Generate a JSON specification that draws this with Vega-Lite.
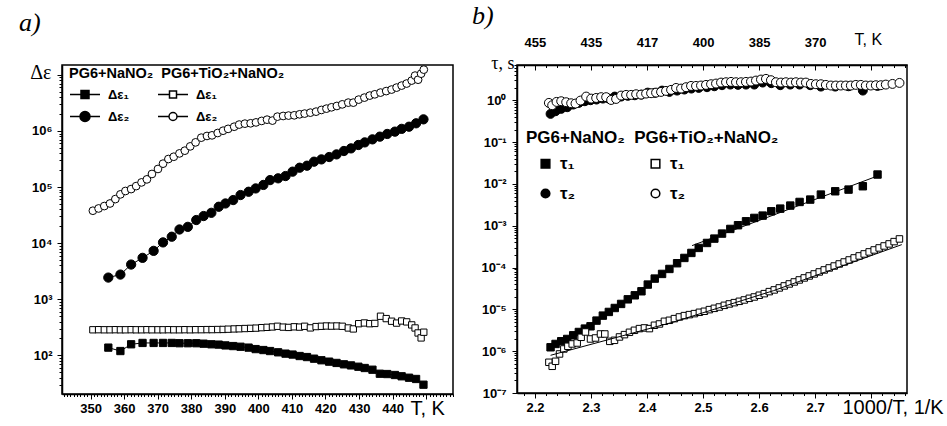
{
"$schema": "https://vega.github.io/schema/vega-lite/v6.json",
"background": "white",
"padding": {"left": 18, "top": 2, "right": 0, "bottom": 0},
"spacing": 16,
"resolve": {"scale": {"shape": "independent", "fill": "independent"}, "legend": {"shape": "independent", "fill": "independent"}},
"config": {
  "font": "Liberation Sans",
  "view": {"stroke": "black", "strokeWidth": 1.5},
  "axis": {"grid": false, "domainColor": "black", "domainWidth": 1.5, "tickColor": "black", "tickWidth": 1, "labelColor": "black", "labelFont": "Liberation Sans", "labelFontWeight": "bold", "labelFontSize": 13, "titleColor": "black", "titleFontWeight": "normal", "labelOverlap": false, "labelBound": false, "labelFlush": false},
  "legend": {"titleColor": "black", "labelColor": "black", "titleFont": "Liberation Sans", "labelFont": "Liberation Sans", "titleFontWeight": "bold", "labelFontWeight": "bold", "titleLimit": 0, "labelLimit": 0}
},
"datasets": {
  "left": [
{"s":"A","T":355.3,"v":137},{"s":"A","T":358.9,"v":119},{"s":"A","T":362.1,"v":157},{"s":"A","T":365.5,"v":166},{"s":"A","T":368.8,"v":166},{"s":"A","T":371.6,"v":166},{"s":"A","T":374.2,"v":166},{"s":"A","T":376.5,"v":164},{"s":"A","T":379.0,"v":164},{"s":"A","T":381.5,"v":164},{"s":"A","T":383.7,"v":161},{"s":"A","T":386.0,"v":157},{"s":"A","T":388.2,"v":155},{"s":"A","T":390.2,"v":150},{"s":"A","T":392.5,"v":146},{"s":"A","T":394.7,"v":142},{"s":"A","T":397.1,"v":137},{"s":"A","T":399.2,"v":129},{"s":"A","T":401.5,"v":124},{"s":"A","T":403.5,"v":119},{"s":"A","T":405.9,"v":113},{"s":"A","T":408.1,"v":107},{"s":"A","T":410.2,"v":103},{"s":"A","T":412.3,"v":97},{"s":"A","T":414.5,"v":93},{"s":"A","T":416.6,"v":87},{"s":"A","T":418.8,"v":81.5},{"s":"A","T":421.1,"v":77},{"s":"A","T":423.3,"v":73},{"s":"A","T":425.5,"v":69},{"s":"A","T":427.6,"v":66},{"s":"A","T":429.8,"v":62.5},{"s":"A","T":431.7,"v":59.3},{"s":"A","T":434.0,"v":55.3},{"s":"A","T":436.2,"v":46.9},{"s":"A","T":438.4,"v":46.3},{"s":"A","T":440.7,"v":44.5},{"s":"A","T":442.7,"v":42.2},{"s":"A","T":444.9,"v":39.8},{"s":"A","T":447.0,"v":37.8},{"s":"A","T":449.2,"v":29.9},
{"s":"C","T":355.3,"v":2430},{"s":"C","T":358.9,"v":2750},{"s":"C","T":362.1,"v":4150},{"s":"C","T":365.5,"v":5460},{"s":"C","T":368.8,"v":7280},{"s":"C","T":371.6,"v":10300},{"s":"C","T":374.2,"v":13000},{"s":"C","T":376.5,"v":17500},{"s":"C","T":379.0,"v":19500},{"s":"C","T":381.5,"v":25800},{"s":"C","T":383.7,"v":30400},{"s":"C","T":386.0,"v":34700},{"s":"C","T":388.2,"v":44500},{"s":"C","T":390.2,"v":50900},{"s":"C","T":392.5,"v":58600},{"s":"C","T":394.7,"v":72000},{"s":"C","T":397.1,"v":82400},{"s":"C","T":399.2,"v":94400},{"s":"C","T":401.5,"v":109000},{"s":"C","T":403.5,"v":133000},{"s":"C","T":405.9,"v":143000},{"s":"C","T":408.1,"v":157000},{"s":"C","T":410.2,"v":188000},{"s":"C","T":412.3,"v":221000},{"s":"C","T":414.5,"v":240000},{"s":"C","T":416.6,"v":283000},{"s":"C","T":418.8,"v":311000},{"s":"C","T":421.1,"v":343000},{"s":"C","T":423.3,"v":382000},{"s":"C","T":425.5,"v":439000},{"s":"C","T":427.6,"v":489000},{"s":"C","T":429.8,"v":562000},{"s":"C","T":431.7,"v":625000},{"s":"C","T":434.0,"v":708000},{"s":"C","T":436.2,"v":791000},{"s":"C","T":438.4,"v":884000},{"s":"C","T":440.7,"v":972000},{"s":"C","T":442.7,"v":1090000},{"s":"C","T":444.9,"v":1190000},{"s":"C","T":447.0,"v":1370000},{"s":"C","T":449.2,"v":1610000},
{"s":"B","T":350.7,"v":285},{"s":"B","T":352.4,"v":286},{"s":"B","T":354.1,"v":285},{"s":"B","T":355.8,"v":285},{"s":"B","T":357.4,"v":286},{"s":"B","T":358.9,"v":285},{"s":"B","T":360.4,"v":285},{"s":"B","T":362.1,"v":286},{"s":"B","T":363.6,"v":285},{"s":"B","T":365.2,"v":285},{"s":"B","T":366.8,"v":286},{"s":"B","T":368.3,"v":285},{"s":"B","T":370.1,"v":285},{"s":"B","T":371.6,"v":285},{"s":"B","T":373.2,"v":286},{"s":"B","T":374.8,"v":285},{"s":"B","T":376.5,"v":285},{"s":"B","T":378.1,"v":286},{"s":"B","T":379.7,"v":285},{"s":"B","T":381.3,"v":286},{"s":"B","T":383.0,"v":286},{"s":"B","T":384.7,"v":287},{"s":"B","T":386.2,"v":287},{"s":"B","T":387.9,"v":288},{"s":"B","T":389.5,"v":289},{"s":"B","T":391.0,"v":292},{"s":"B","T":392.8,"v":295},{"s":"B","T":394.3,"v":297},{"s":"B","T":396.0,"v":300},{"s":"B","T":397.7,"v":302},{"s":"B","T":399.3,"v":305},{"s":"B","T":401.0,"v":311},{"s":"B","T":402.6,"v":315},{"s":"B","T":404.2,"v":320},{"s":"B","T":405.7,"v":329},{"s":"B","T":407.4,"v":318},{"s":"B","T":409.0,"v":314},{"s":"B","T":410.7,"v":322},{"s":"B","T":412.3,"v":318},{"s":"B","T":413.8,"v":329},{"s":"B","T":415.5,"v":308},{"s":"B","T":417.2,"v":325},{"s":"B","T":418.8,"v":329},{"s":"B","T":420.3,"v":333},{"s":"B","T":421.8,"v":331},{"s":"B","T":423.4,"v":333},{"s":"B","T":425.0,"v":329},{"s":"B","T":426.8,"v":307},{"s":"B","T":428.3,"v":295},{"s":"B","T":429.9,"v":366},{"s":"B","T":431.6,"v":377},{"s":"B","T":433.2,"v":366},{"s":"B","T":434.7,"v":370},{"s":"B","T":436.4,"v":497},{"s":"B","T":438.1,"v":451},{"s":"B","T":439.7,"v":405},{"s":"B","T":441.2,"v":375},{"s":"B","T":442.7,"v":409},{"s":"B","T":444.2,"v":394},{"s":"B","T":445.7,"v":348},{"s":"B","T":446.7,"v":307},{"s":"B","T":447.6,"v":250},{"s":"B","T":448.5,"v":204},{"s":"B","T":449.3,"v":258},
{"s":"D","T":350.7,"v":37800},{"s":"D","T":352.4,"v":41500},{"s":"D","T":354.1,"v":45800},{"s":"D","T":355.8,"v":50900},{"s":"D","T":357.4,"v":61000},{"s":"D","T":358.9,"v":74000},{"s":"D","T":360.4,"v":85000},{"s":"D","T":362.1,"v":92000},{"s":"D","T":363.6,"v":104000},{"s":"D","T":365.2,"v":121000},{"s":"D","T":366.8,"v":137000},{"s":"D","T":368.3,"v":171000},{"s":"D","T":370.1,"v":210000},{"s":"D","T":371.6,"v":261000},{"s":"D","T":373.2,"v":316000},{"s":"D","T":374.8,"v":347000},{"s":"D","T":376.5,"v":398000},{"s":"D","T":378.1,"v":445000},{"s":"D","T":379.7,"v":531000},{"s":"D","T":381.3,"v":626000},{"s":"D","T":383.0,"v":759000},{"s":"D","T":384.7,"v":814000},{"s":"D","T":386.2,"v":835000},{"s":"D","T":387.9,"v":920000},{"s":"D","T":389.5,"v":1010000},{"s":"D","T":391.0,"v":1090000},{"s":"D","T":392.8,"v":1190000},{"s":"D","T":394.3,"v":1300000},{"s":"D","T":396.0,"v":1350000},{"s":"D","T":397.7,"v":1370000},{"s":"D","T":399.3,"v":1420000},{"s":"D","T":401.0,"v":1510000},{"s":"D","T":402.6,"v":1590000},{"s":"D","T":404.2,"v":1530000},{"s":"D","T":405.7,"v":1800000},{"s":"D","T":407.4,"v":1850000},{"s":"D","T":409.0,"v":1880000},{"s":"D","T":410.7,"v":1900000},{"s":"D","T":412.3,"v":1980000},{"s":"D","T":413.8,"v":2040000},{"s":"D","T":415.5,"v":2120000},{"s":"D","T":417.2,"v":2210000},{"s":"D","T":418.8,"v":2370000},{"s":"D","T":420.3,"v":2500000},{"s":"D","T":421.8,"v":2640000},{"s":"D","T":423.4,"v":2790000},{"s":"D","T":425.0,"v":2980000},{"s":"D","T":426.8,"v":3200000},{"s":"D","T":428.3,"v":3200000},{"s":"D","T":429.9,"v":3620000},{"s":"D","T":431.6,"v":3930000},{"s":"D","T":433.2,"v":4270000},{"s":"D","T":434.7,"v":4500000},{"s":"D","T":436.4,"v":4830000},{"s":"D","T":438.1,"v":5140000},{"s":"D","T":439.7,"v":5470000},{"s":"D","T":441.2,"v":5930000},{"s":"D","T":442.7,"v":6440000},{"s":"D","T":444.2,"v":7000000},{"s":"D","T":445.7,"v":7910000},{"s":"D","T":446.7,"v":9700000},{"s":"D","T":447.6,"v":8200000},{"s":"D","T":448.5,"v":10500000},{"s":"D","T":449.3,"v":12400000}
  ],
  "rpts": [
{"s":"C","x":2.2279,"v":0.474},{"s":"C","x":2.2368,"v":0.548},{"s":"C","x":2.2469,"v":0.624},{"s":"C","x":2.2576,"v":0.684},{"s":"C","x":2.2683,"v":0.792},{"s":"C","x":2.2784,"v":0.868},{"s":"C","x":2.2891,"v":0.952},{"s":"C","x":2.2992,"v":1.006},{"s":"C","x":2.3099,"v":1.043},{"s":"C","x":2.3212,"v":1.1},{"s":"C","x":2.3319,"v":1.1},{"s":"C","x":2.3425,"v":1.23},{"s":"C","x":2.3538,"v":1.23},{"s":"C","x":2.3657,"v":1.28},{"s":"C","x":2.3782,"v":1.32},{"s":"C","x":2.3901,"v":1.37},{"s":"C","x":2.4014,"v":1.53},{"s":"C","x":2.4138,"v":1.51},{"s":"C","x":2.4269,"v":1.71},{"s":"C","x":2.44,"v":1.59},{"s":"C","x":2.4537,"v":1.71},{"s":"C","x":2.4667,"v":1.81},{"s":"C","x":2.4792,"v":1.91},{"s":"C","x":2.4923,"v":1.98},{"s":"C","x":2.5071,"v":2.06},{"s":"C","x":2.5202,"v":2.17},{"s":"C","x":2.5339,"v":2.3},{"s":"C","x":2.5487,"v":2.38},{"s":"C","x":2.5624,"v":2.34},{"s":"C","x":2.5767,"v":2.38},{"s":"C","x":2.5915,"v":2.38},{"s":"C","x":2.6064,"v":2.66},{"s":"C","x":2.6218,"v":2.57},{"s":"C","x":2.6378,"v":2.3},{"s":"C","x":2.6557,"v":2.38},{"s":"C","x":2.6723,"v":2.38},{"s":"C","x":2.6913,"v":2.3},{"s":"C","x":2.7103,"v":2.13},{"s":"C","x":2.7359,"v":2.13},{"s":"C","x":2.7597,"v":2.17},{"s":"C","x":2.7852,"v":1.71},{"s":"C","x":2.8114,"v":2.21},
{"s":"D","x":2.2249,"v":0.868},{"s":"D","x":2.2308,"v":0.763},{"s":"D","x":2.2386,"v":0.917},{"s":"D","x":2.2469,"v":0.952},{"s":"D","x":2.2558,"v":0.901},{"s":"D","x":2.2647,"v":0.852},{"s":"D","x":2.2724,"v":0.837},{"s":"D","x":2.2813,"v":0.987},{"s":"D","x":2.2914,"v":1.23},{"s":"D","x":2.3004,"v":1.1},{"s":"D","x":2.3093,"v":1.14},{"s":"D","x":2.3182,"v":1.19},{"s":"D","x":2.3271,"v":1.19},{"s":"D","x":2.336,"v":1.02},{"s":"D","x":2.3449,"v":1.08},{"s":"D","x":2.3538,"v":1.3},{"s":"D","x":2.3627,"v":1.35},{"s":"D","x":2.3717,"v":1.35},{"s":"D","x":2.3806,"v":1.4},{"s":"D","x":2.3895,"v":1.37},{"s":"D","x":2.3984,"v":1.45},{"s":"D","x":2.4073,"v":1.48},{"s":"D","x":2.4162,"v":1.53},{"s":"D","x":2.4251,"v":1.59},{"s":"D","x":2.434,"v":1.68},{"s":"D","x":2.443,"v":1.78},{"s":"D","x":2.4519,"v":1.98},{"s":"D","x":2.4608,"v":1.91},{"s":"D","x":2.4697,"v":2.06},{"s":"D","x":2.4786,"v":2.21},{"s":"D","x":2.4875,"v":2.21},{"s":"D","x":2.4964,"v":2.26},{"s":"D","x":2.5053,"v":2.34},{"s":"D","x":2.5143,"v":2.43},{"s":"D","x":2.5232,"v":2.52},{"s":"D","x":2.5321,"v":2.66},{"s":"D","x":2.541,"v":2.71},{"s":"D","x":2.5499,"v":2.76},{"s":"D","x":2.5588,"v":2.71},{"s":"D","x":2.5677,"v":2.71},{"s":"D","x":2.5766,"v":2.76},{"s":"D","x":2.5856,"v":2.81},{"s":"D","x":2.5945,"v":2.97},{"s":"D","x":2.6034,"v":3.14},{"s":"D","x":2.6123,"v":3.26},{"s":"D","x":2.6212,"v":3.03},{"s":"D","x":2.6301,"v":2.71},{"s":"D","x":2.639,"v":2.66},{"s":"D","x":2.6479,"v":2.71},{"s":"D","x":2.6569,"v":2.66},{"s":"D","x":2.6658,"v":2.71},{"s":"D","x":2.6747,"v":2.66},{"s":"D","x":2.6836,"v":2.66},{"s":"D","x":2.6925,"v":2.47},{"s":"D","x":2.7014,"v":2.43},{"s":"D","x":2.7103,"v":2.43},{"s":"D","x":2.7192,"v":2.34},{"s":"D","x":2.7282,"v":2.26},{"s":"D","x":2.7371,"v":2.26},{"s":"D","x":2.746,"v":2.26},{"s":"D","x":2.7549,"v":2.26},{"s":"D","x":2.7638,"v":2.26},{"s":"D","x":2.7727,"v":2.34},{"s":"D","x":2.7816,"v":2.34},{"s":"D","x":2.7905,"v":2.26},{"s":"D","x":2.7995,"v":2.26},{"s":"D","x":2.8084,"v":2.3},{"s":"D","x":2.8173,"v":2.3},{"s":"D","x":2.8262,"v":2.38},{"s":"D","x":2.8381,"v":2.47},{"s":"D","x":2.8506,"v":2.61},
{"s":"A","x":2.2279,"v":1.24e-6},{"s":"A","x":2.2368,"v":1.49e-6},{"s":"A","x":2.2469,"v":1.73e-6},{"s":"A","x":2.2576,"v":1.96e-6},{"s":"A","x":2.2683,"v":2.4e-6},{"s":"A","x":2.2784,"v":2.88e-6},{"s":"A","x":2.2891,"v":3.47e-6},{"s":"A","x":2.2992,"v":3.94e-6},{"s":"A","x":2.3099,"v":5.39e-6},{"s":"A","x":2.3212,"v":7.09e-6},{"s":"A","x":2.3319,"v":8.69e-6},{"s":"A","x":2.3425,"v":1.08e-5},{"s":"A","x":2.3538,"v":1.35e-5},{"s":"A","x":2.3657,"v":1.74e-5},{"s":"A","x":2.3782,"v":2.17e-5},{"s":"A","x":2.3901,"v":2.71e-5},{"s":"A","x":2.4014,"v":3.92e-5},{"s":"A","x":2.4138,"v":5.45e-5},{"s":"A","x":2.4269,"v":7.05e-5},{"s":"A","x":2.44,"v":9.27e-5},{"s":"A","x":2.4537,"v":1.27e-4},{"s":"A","x":2.4667,"v":1.7e-4},{"s":"A","x":2.4792,"v":2.24e-4},{"s":"A","x":2.4923,"v":2.95e-4},{"s":"A","x":2.5071,"v":3.88e-4},{"s":"A","x":2.5202,"v":4.93e-4},{"s":"A","x":2.5339,"v":6.5e-4},{"s":"A","x":2.5487,"v":8.4e-4},{"s":"A","x":2.5624,"v":1.03e-3},{"s":"A","x":2.5767,"v":1.28e-3},{"s":"A","x":2.5915,"v":1.54e-3},{"s":"A","x":2.6064,"v":1.75e-3},{"s":"A","x":2.6218,"v":2.22e-3},{"s":"A","x":2.6378,"v":2.57e-3},{"s":"A","x":2.6557,"v":3.04e-3},{"s":"A","x":2.6723,"v":3.71e-3},{"s":"A","x":2.6913,"v":4.23e-3},{"s":"A","x":2.7103,"v":5.57e-3},{"s":"A","x":2.7359,"v":6.68e-3},{"s":"A","x":2.7597,"v":7.33e-3},{"s":"A","x":2.7852,"v":8.81e-3},{"s":"A","x":2.8114,"v":1.68e-2},
{"s":"B","x":2.2249,"v":5.43e-7},{"s":"B","x":2.2308,"v":4.35e-7},{"s":"B","x":2.2368,"v":5.73e-7},{"s":"B","x":2.2439,"v":8.59e-7},{"s":"B","x":2.2516,"v":1.13e-6},{"s":"B","x":2.2588,"v":1.31e-6},{"s":"B","x":2.2665,"v":1.49e-6},{"s":"B","x":2.2754,"v":1.57e-6},{"s":"B","x":2.2825,"v":2.15e-6},{"s":"B","x":2.2902,"v":2.88e-6},{"s":"B","x":2.2992,"v":1.96e-6},{"s":"B","x":2.3081,"v":2.07e-6},{"s":"B","x":2.317,"v":2.58e-6},{"s":"B","x":2.3247,"v":2.58e-6},{"s":"B","x":2.3336,"v":1.72e-6},{"s":"B","x":2.342,"v":1.82e-6},{"s":"B","x":2.3509,"v":2.19e-6},{"s":"B","x":2.3598,"v":2.49e-6},{"s":"B","x":2.3687,"v":2.83e-6},{"s":"B","x":2.3776,"v":3.16e-6},{"s":"B","x":2.3865,"v":3.47e-6},{"s":"B","x":2.3954,"v":3.6e-6},{"s":"B","x":2.4043,"v":3.47e-6},{"s":"B","x":2.4133,"v":4.17e-6},{"s":"B","x":2.4222,"v":4.48e-6},{"s":"B","x":2.4311,"v":5.19e-6},{"s":"B","x":2.44,"v":5.48e-6},{"s":"B","x":2.4489,"v":6.01e-6},{"s":"B","x":2.4578,"v":6.59e-6},{"s":"B","x":2.4667,"v":7.09e-6},{"s":"B","x":2.4756,"v":7.49e-6},{"s":"B","x":2.4846,"v":7.92e-6},{"s":"B","x":2.4935,"v":8.52e-6},{"s":"B","x":2.5024,"v":9.01e-6},{"s":"B","x":2.5113,"v":9.87e-6},{"s":"B","x":2.5202,"v":1.06e-5},{"s":"B","x":2.5291,"v":1.14e-5},{"s":"B","x":2.538,"v":1.25e-5},{"s":"B","x":2.5469,"v":1.35e-5},{"s":"B","x":2.5558,"v":1.45e-5},{"s":"B","x":2.5648,"v":1.56e-5},{"s":"B","x":2.5737,"v":1.68e-5},{"s":"B","x":2.5826,"v":1.84e-5},{"s":"B","x":2.5915,"v":1.98e-5},{"s":"B","x":2.6004,"v":2.18e-5},{"s":"B","x":2.6093,"v":2.38e-5},{"s":"B","x":2.6182,"v":2.66e-5},{"s":"B","x":2.6271,"v":2.92e-5},{"s":"B","x":2.6361,"v":3.26e-5},{"s":"B","x":2.645,"v":3.64e-5},{"s":"B","x":2.6539,"v":4.06e-5},{"s":"B","x":2.6628,"v":4.53e-5},{"s":"B","x":2.6717,"v":5.06e-5},{"s":"B","x":2.6806,"v":5.65e-5},{"s":"B","x":2.6895,"v":6.31e-5},{"s":"B","x":2.6984,"v":7.04e-5},{"s":"B","x":2.7074,"v":7.86e-5},{"s":"B","x":2.7163,"v":8.78e-5},{"s":"B","x":2.7252,"v":9.8e-5},{"s":"B","x":2.7341,"v":1.09e-4},{"s":"B","x":2.743,"v":1.22e-4},{"s":"B","x":2.7519,"v":1.36e-4},{"s":"B","x":2.7608,"v":1.52e-4},{"s":"B","x":2.7697,"v":1.7e-4},{"s":"B","x":2.7787,"v":1.9e-4},{"s":"B","x":2.7876,"v":2.12e-4},{"s":"B","x":2.7965,"v":2.37e-4},{"s":"B","x":2.8054,"v":2.64e-4},{"s":"B","x":2.8143,"v":2.95e-4},{"s":"B","x":2.8232,"v":3.29e-4},{"s":"B","x":2.8321,"v":3.68e-4},{"s":"B","x":2.841,"v":4.18e-4},{"s":"B","x":2.8505,"v":4.84e-4}
  ],
  "rfit": [
{"f":"N","x":2.4804,"v":3.35e-4},{"f":"N","x":2.8102,"v":1.53e-2},
{"f":"T","x":2.2279,"v":7.98e-7},{"f":"T","x":2.4477,"v":5.0e-6},{"f":"T","x":2.626,"v":2.81e-5},{"f":"T","x":2.8547,"v":3.54e-4}
  ]
},
"hconcat": [
  {
    "width": 391, "height": 329,
    "title": {"text": "a)", "font": "Liberation Serif", "fontSize": 26, "fontStyle": "italic", "fontWeight": "normal", "color": "black", "anchor": "start", "frame": "group", "dx": -43, "offset": 26},
    "data": {"name": "left"},
    "encoding": {
      "x": {"field": "T", "type": "quantitative",
        "scale": {"domain": [341.5, 458], "nice": false, "zero": false},
        "axis": {"values": [342,343,344,345,346,347,348,349,350,351,352,353,354,355,356,357,358,359,360,361,362,363,364,365,366,367,368,369,370,371,372,373,374,375,376,377,378,379,380,381,382,383,384,385,386,387,388,389,390,391,392,393,394,395,396,397,398,399,400,401,402,403,404,405,406,407,408,409,410,411,412,413,414,415,416,417,418,419,420,421,422,423,424,425,426,427,428,429,430,431,432,433,434,435,436,437,438,439,440,441,442,443,444,445,446,447,448,449,450,451,452,453,454,455,456,457,458],
          "labelExpr": "datum.value % 10 == 0 && datum.value <= 440 ? format(datum.value, 'd') : ''",
          "tickSize": {"condition": {"test": "datum.value % 10 == 0", "value": 5}, "value": 2.5},
          "labelPadding": 3,
          "title": "T, K", "titleFont": "Liberation Sans", "titleFontSize": 20, "titleX": 348, "titleY": 20, "titleAlign": "left", "titleBaseline": "alphabetic"}},
      "y": {"field": "v", "type": "quantitative",
        "scale": {"type": "log", "domain": [20.4, 15000000], "nice": false},
        "axis": {"values": [30,40,50,60,70,80,90,100,200,300,400,500,600,700,800,900,1000,2000,3000,4000,5000,6000,7000,8000,9000,10000,20000,30000,40000,50000,60000,70000,80000,90000,100000,200000,300000,400000,500000,600000,700000,800000,900000,1000000,2000000,3000000,4000000,5000000,6000000,7000000,8000000,9000000,10000000],
          "labelExpr": "abs(log(datum.value)/LN10 - round(log(datum.value)/LN10)) < 1e-6 && datum.value < 5e6 ? '10' + substring('⁰¹²³⁴⁵⁶⁷⁸⁹', round(log(datum.value)/LN10), round(log(datum.value)/LN10) + 1) : ''",
          "tickSize": {"condition": {"test": "abs(log(datum.value)/LN10 - round(log(datum.value)/LN10)) < 1e-6", "value": 5}, "value": 3},
          "labelPadding": 5,
          "title": "Δε", "titleFont": "Liberation Serif", "titleFontSize": 20, "titleAngle": 0, "titleAlign": "right", "titleBaseline": "middle", "titleX": -11, "titleY": 7}}
    },
    "layer": [
      {"mark": {"type": "line", "stroke": "black", "strokeWidth": 1}, "encoding": {"detail": {"field": "s"}}},
      {"transform": [{"filter": "datum.s == 'A'"}], "mark": {"type": "point", "shape": "square", "filled": true, "fill": "black", "stroke": "black", "strokeWidth": 1, "opacity": 1, "size": 53}},
      {"transform": [{"filter": "datum.s == 'C'"}], "mark": {"type": "point", "shape": "circle", "filled": true, "fill": "black", "stroke": "black", "strokeWidth": 1, "opacity": 1, "size": 86}},
      {"transform": [{"filter": "datum.s == 'B'"}], "mark": {"type": "point", "shape": "square", "filled": true, "fill": "white", "stroke": "black", "strokeWidth": 1, "opacity": 1, "size": 40}},
      {"transform": [{"filter": "datum.s == 'D'"}], "mark": {"type": "point", "shape": "circle", "filled": true, "fill": "white", "stroke": "black", "strokeWidth": 1, "opacity": 1, "size": 60}},
      {"encoding": {
         "shape": {"field": "s", "type": "nominal",
           "scale": {"domain": ["A","B","C","D"], "range": ["M-1.5,0H-0.4M0.4,0H1.5M-0.4,-0.4H0.4V0.4H-0.4Z", "M-1.5,0H-0.35M0.35,0H1.5M-0.35,-0.35H0.35V0.35H-0.35Z", "M-1.5,0H-0.5M0.5,0H1.5M0.5,0A0.5,0.5,0,1,1,-0.5,0A0.5,0.5,0,1,1,0.5,0Z", "M-1.5,0H-0.4M0.4,0H1.5M0.4,0A0.4,0.4,0,1,1,-0.4,0A0.4,0.4,0,1,1,0.4,0Z"]},
           "legend": {"orient": "none", "legendX": 7, "legendY": 2, "direction": "horizontal", "columns": 2, "columnPadding": 25, "rowPadding": 4, "symbolOffset": 5, "title": "PG6+NaNO₂\u00a0\u00a0PG6+TiO₂+NaNO₂", "titleFontSize": 14.5, "titlePadding": 2, "labelFontSize": 13, "labelOffset": 12, "symbolSize": 400,
             "labelExpr": "datum.label == 'A' || datum.label == 'B' ? 'Δε₁' : 'Δε₂'",
             "encode": {
               "symbols": {
                 "fill": {"value": {"expr": "datum.value == 'A' || datum.value == 'C' ? 'black' : 'white'"}},
                 "fillOpacity": {"value": 1},
                 "stroke": {"value": "black"},
                 "strokeWidth": {"value": 1},
                 "opacity": {"value": 1}}}}},
         "fill": {"field": "s", "type": "nominal", "scale": {"domain": ["A","B","C","D"], "range": ["black","white","black","white"]}, "legend": null}
       },
       "layer": [
        {"transform": [{"filter": "datum.s == 'A'"}], "mark": {"type": "point", "filled": true, "stroke": "black", "strokeWidth": 1, "opacity": 1, "size": 0}},
        {"transform": [{"filter": "datum.s == 'C'"}], "mark": {"type": "point", "filled": true, "stroke": "black", "strokeWidth": 1, "opacity": 1, "size": 0}},
        {"transform": [{"filter": "datum.s == 'B'"}], "mark": {"type": "point", "filled": true, "stroke": "black", "strokeWidth": 1, "opacity": 1, "size": 0}},
        {"transform": [{"filter": "datum.s == 'D'"}], "mark": {"type": "point", "filled": true, "stroke": "black", "strokeWidth": 1, "opacity": 1, "size": 0}}
       ]}
    ]
  },
  {
    "width": 390, "height": 328,
    "title": {"text": "b)", "font": "Liberation Serif", "fontSize": 26, "fontStyle": "italic", "fontWeight": "normal", "color": "black", "anchor": "start", "frame": "group", "dx": -45, "offset": 2},
    "encoding": {
      "y": {"field": "v", "type": "quantitative",
        "scale": {"type": "log", "domain": [1e-7, 7], "nice": false},
        "axis": {"values": [1e-7,2e-7,3e-7,4e-7,5e-7,6e-7,7e-7,8e-7,9e-7,1e-6,2e-6,3e-6,4e-6,5e-6,6e-6,7e-6,8e-6,9e-6,1e-5,2e-5,3e-5,4e-5,5e-5,6e-5,7e-5,8e-5,9e-5,1e-4,2e-4,3e-4,4e-4,5e-4,6e-4,7e-4,8e-4,9e-4,1e-3,2e-3,3e-3,4e-3,5e-3,6e-3,7e-3,8e-3,9e-3,1e-2,2e-2,3e-2,4e-2,5e-2,6e-2,7e-2,8e-2,9e-2,0.1,0.2,0.3,0.4,0.5,0.6,0.7,0.8,0.9,1,2,3,4,5,6,7],
          "labelExpr": "abs(log(datum.value)/LN10 - round(log(datum.value)/LN10)) < 1e-6 ? '10' + (round(log(datum.value)/LN10) < 0 ? '⁻' : '') + substring('⁰¹²³⁴⁵⁶⁷⁸⁹', abs(round(log(datum.value)/LN10)), abs(round(log(datum.value)/LN10)) + 1) : ''",
          "tickSize": {"condition": {"test": "abs(log(datum.value)/LN10 - round(log(datum.value)/LN10)) < 1e-6", "value": 5}, "value": 3},
          "labelPadding": 6,
          "title": "τ, s", "titleFont": "Liberation Serif", "titleFontSize": 18, "titleAngle": 0, "titleAlign": "right", "titleBaseline": "middle", "titleX": -3, "titleY": -2}}
    },
    "layer": [
      {"data": {"name": "rpts"},
       "encoding": {
         "x": {"field": "x", "type": "quantitative", "scale": {"domain": [2.168, 2.864], "nice": false, "zero": false},
           "axis": {"orient": "bottom", "values": [2.18,2.2,2.22,2.24,2.26,2.28,2.3,2.32,2.34,2.36,2.38,2.4,2.42,2.44,2.46,2.48,2.5,2.52,2.54,2.56,2.58,2.6,2.62,2.64,2.66,2.68,2.7,2.72,2.74,2.76,2.78,2.8,2.82,2.84,2.86],
             "labelExpr": "abs(datum.value*10 - round(datum.value*10)) < 1e-6 && datum.value < 2.75 ? format(datum.value, '.1f') : ''",
             "tickSize": {"condition": {"test": "abs(datum.value*10 - round(datum.value*10)) < 1e-6", "value": 5}, "value": 2.5},
             "labelPadding": 3,
             "title": "1000/T, 1/K", "titleFont": "Liberation Sans", "titleFontSize": 20, "titleX": 325, "titleY": 20, "titleAlign": "left", "titleBaseline": "alphabetic"}},
         "shape": {"field": "s", "type": "nominal", "scale": {"domain": ["A","B","C","D"], "range": ["square","square","circle","circle"]},
           "legend": {"orient": "none", "legendX": 9, "legendY": 65, "direction": "horizontal", "columns": 2, "columnPadding": 60, "rowPadding": 12, "symbolOffset": 11, "title": "PG6+NaNO₂\u00a0\u00a0PG6+TiO₂+NaNO₂", "titleFontSize": 17, "titlePadding": 8, "labelFontSize": 17, "labelOffset": 6, "symbolSize": 75,
             "labelExpr": "datum.label == 'A' || datum.label == 'B' ? 'τ₁' : 'τ₂'",
             "encode": {
               "symbols": {
                 "fill": {"value": {"expr": "datum.value == 'A' || datum.value == 'C' ? 'black' : 'white'"}},
                 "fillOpacity": {"value": 1},
                 "stroke": {"value": "black"},
                 "strokeWidth": {"value": 1},
                 "opacity": {"value": 1}}}}},
         "fill": {"field": "s", "type": "nominal", "scale": {"domain": ["A","B","C","D"], "range": ["black","white","black","white"]}, "legend": null}
       },
       "layer": [
        {"transform": [{"filter": "datum.s == 'C'"}], "mark": {"type": "point", "filled": true, "stroke": "black", "strokeWidth": 1, "opacity": 1, "size": 80}},
        {"transform": [{"filter": "datum.s == 'D'"}], "mark": {"type": "point", "filled": true, "stroke": "black", "strokeWidth": 1, "opacity": 1, "size": 80}},
        {"transform": [{"filter": "datum.s == 'A'"}], "mark": {"type": "point", "filled": true, "stroke": "black", "strokeWidth": 1, "opacity": 1, "size": 55}},
        {"transform": [{"filter": "datum.s == 'B'"}], "mark": {"type": "point", "filled": true, "stroke": "black", "strokeWidth": 1, "opacity": 1, "size": 42}}
       ]},
      {"data": {"name": "rfit"},
       "mark": {"type": "line", "stroke": "black", "strokeWidth": 1},
       "encoding": {
         "x": {"field": "x", "type": "quantitative", "scale": {"domain": [2.168, 2.864], "nice": false, "zero": false},
           "axis": {"orient": "top", "values": [2.18,2.2,2.22,2.24,2.26,2.28,2.3,2.32,2.34,2.36,2.38,2.4,2.42,2.44,2.46,2.48,2.5,2.52,2.54,2.56,2.58,2.6,2.62,2.64,2.66,2.68,2.7,2.72,2.74,2.76,2.78,2.8,2.82,2.84,2.86],
             "labelExpr": "abs(datum.value*10 - round(datum.value*10)) < 1e-6 && datum.value < 2.75 ? format(1000/datum.value, '.0f') : ''",
             "tickSize": {"condition": {"test": "abs(datum.value*10 - round(datum.value*10)) < 1e-6", "value": -5}, "value": -2.5},
             "labelPadding": 21,
             "title": "T, K", "titleFont": "Liberation Sans", "titleFontSize": 16, "titleX": 337, "titleY": -21, "titleAlign": "left", "titleBaseline": "alphabetic"}},
         "detail": {"field": "f"}
       }}
    ],
    "resolve": {"axis": {"x": "independent"}}
  }
]
}
